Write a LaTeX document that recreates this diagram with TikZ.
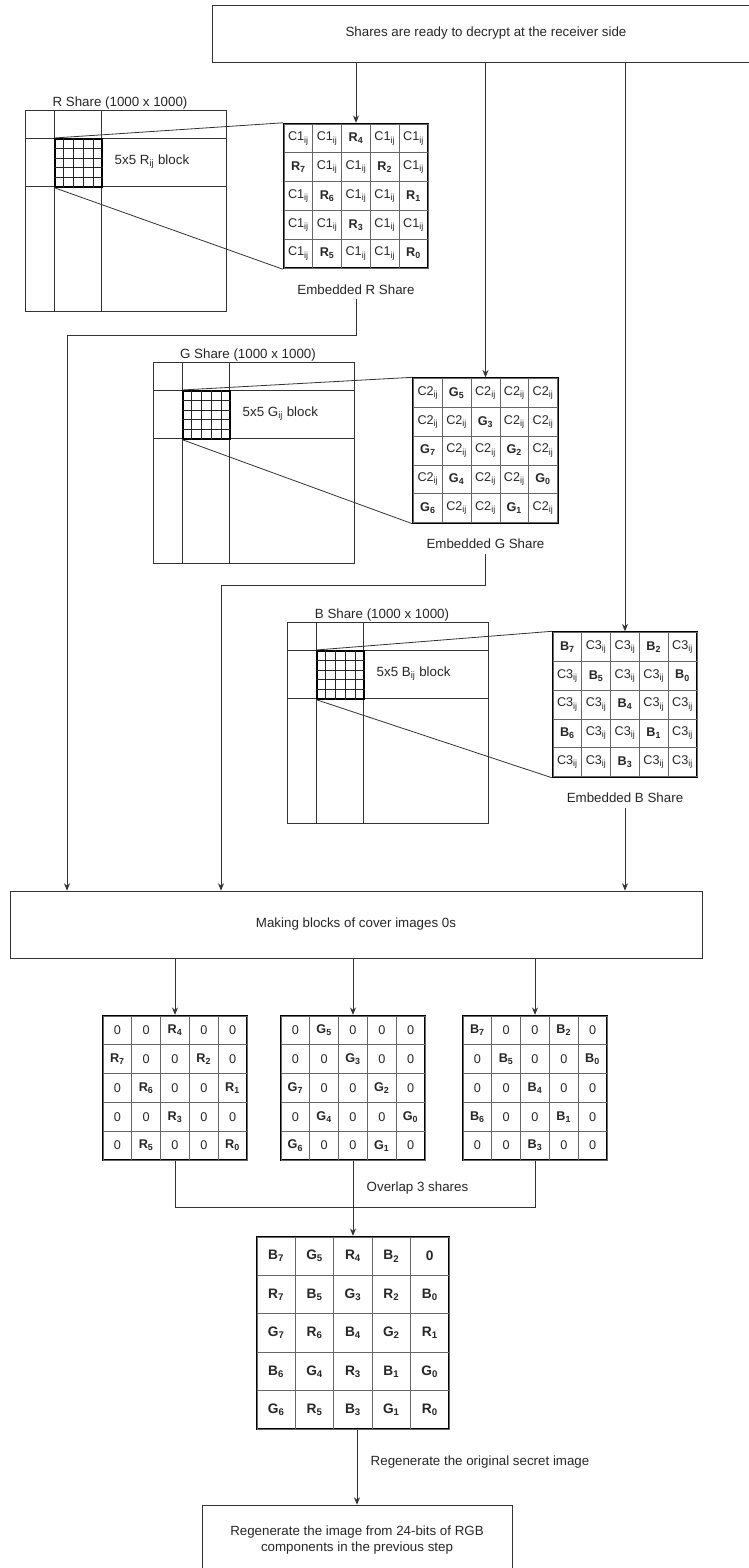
\documentclass[tikz,border=0pt]{standalone}
\usepackage{fontspec}
\setmainfont{Liberation Sans}
\usetikzlibrary{arrows.meta,positioning,calc,matrix}
\newcommand{\Cone}{C1\textsubscript{ij}}
\newcommand{\Ctwo}{C2\textsubscript{ij}}
\newcommand{\Cthree}{C3\textsubscript{ij}}
\newcommand{\pix}[2]{\textbf{#1\textsubscript{#2}}}

\begin{document}
\begin{tikzpicture}[
    x=0.75pt, y=-0.75pt,
    >={Stealth[length=5.5pt,width=4.5pt]},
    every node/.style={font=\fontsize{10}{12}\selectfont, text=black!85},
    box/.style={draw=black!80, line width=0.6pt, align=center, inner sep=0pt},
    cell/.style={draw=black!60, line width=0.5pt, minimum width=21.6pt, minimum height=21.6pt,
        inner sep=0pt, anchor=center, font=\fontsize{9.5}{11}\selectfont},
    bigcell/.style={minimum width=28.8pt, minimum height=28.8pt, font=\fontsize{10.3}{12}\selectfont},
    blockgrid/.style={matrix of nodes, draw=black, line width=1.3pt, inner sep=0pt,
        row sep=-0.5pt, column sep=-0.5pt, nodes={cell}},
    conn/.style={draw=black!80, line width=0.6pt}
]
\useasboundingbox (0,0) rectangle (749,1568);

% boxes
\node[box, minimum width=411pt, minimum height=42.75pt] (ready) at (486,33.5) {Shares are ready to decrypt at the receiver side};
\node[box, minimum width=519pt, minimum height=50.25pt] (making) at (356,924.5) {Making blocks of cover images 0s};
\node[box, minimum width=232.5pt, minimum height=52.5pt] (regen) at (357,1540) {Regenerate the image from 24-bits of RGB\\components in the previous step};

% the three 1000 x 1000 shares with their 5x5 block
\foreach \sh/\xl/\yt in {R/25/110, G/153/362, B/287/622} {
  \draw[conn] (\xl,\yt) rectangle ++(201,201);
  \draw[conn] (\xl+29,\yt) -- ++(0,201) (\xl+76,\yt) -- ++(0,201);
  \draw[conn] (\xl,\yt+28) -- ++(201,0) (\xl,\yt+76) -- ++(201,0);
  \node[anchor=base] at (\xl+95,\yt-4) {\sh{} Share (1000 x 1000)};
  \node[draw=black, line width=1.2pt, minimum width=35.25pt, minimum height=36pt, inner sep=0pt,
        anchor=north west] (blk\sh) at (\xl+29,\yt+28) {};
  \foreach \k in {1,...,4} {
    \draw[black!85, line width=0.45pt] ($(blk\sh.north west)!\k/5!(blk\sh.north east)$) -- ($(blk\sh.south west)!\k/5!(blk\sh.south east)$);
    \draw[black!85, line width=0.45pt] ($(blk\sh.north west)!\k/5!(blk\sh.south west)$) -- ($(blk\sh.north east)!\k/5!(blk\sh.south east)$);
  }
  \node[anchor=west] at (\xl+85,\yt+52) {5x5 \sh\textsubscript{ij} block};
}

% embedded shares
\matrix (embR) at (356,196) [blockgrid] {
  \Cone & \Cone & \pix{R}{4} & \Cone & \Cone \\
  \pix{R}{7} & \Cone & \Cone & \pix{R}{2} & \Cone \\
  \Cone & \pix{R}{6} & \Cone & \Cone & \pix{R}{1} \\
  \Cone & \Cone & \pix{R}{3} & \Cone & \Cone \\
  \Cone & \pix{R}{5} & \Cone & \Cone & \pix{R}{0} \\
};
\matrix (embG) at (485.5,450.5) [blockgrid] {
  \Ctwo & \pix{G}{5} & \Ctwo & \Ctwo & \Ctwo \\
  \Ctwo & \Ctwo & \pix{G}{3} & \Ctwo & \Ctwo \\
  \pix{G}{7} & \Ctwo & \Ctwo & \pix{G}{2} & \Ctwo \\
  \Ctwo & \pix{G}{4} & \Ctwo & \Ctwo & \pix{G}{0} \\
  \pix{G}{6} & \Ctwo & \Ctwo & \pix{G}{1} & \Ctwo \\
};
\matrix (embB) at (625,704.5) [blockgrid] {
  \pix{B}{7} & \Cthree & \Cthree & \pix{B}{2} & \Cthree \\
  \Cthree & \pix{B}{5} & \Cthree & \Cthree & \pix{B}{0} \\
  \Cthree & \Cthree & \pix{B}{4} & \Cthree & \Cthree \\
  \pix{B}{6} & \Cthree & \Cthree & \pix{B}{1} & \Cthree \\
  \Cthree & \Cthree & \pix{B}{3} & \Cthree & \Cthree \\
};
\node[below=8pt of embR] (labR) {Embedded R Share};
\node[below=8pt of embG] (labG) {Embedded G Share};
\node[below=8pt of embB] (labB) {Embedded B Share};

% zoom lines
\foreach \sh in {R,G,B} {
  \draw[conn] (blk\sh.north west) -- (emb\sh.north west);
  \draw[conn] (blk\sh.south west) -- (emb\sh.south west);
}

% blocks with 0s
\matrix (botR) at (175,1088) [blockgrid] {
  0 & 0 & \pix{R}{4} & 0 & 0 \\
  \pix{R}{7} & 0 & 0 & \pix{R}{2} & 0 \\
  0 & \pix{R}{6} & 0 & 0 & \pix{R}{1} \\
  0 & 0 & \pix{R}{3} & 0 & 0 \\
  0 & \pix{R}{5} & 0 & 0 & \pix{R}{0} \\
};
\matrix (botG) at (353,1088) [blockgrid] {
  0 & \pix{G}{5} & 0 & 0 & 0 \\
  0 & 0 & \pix{G}{3} & 0 & 0 \\
  \pix{G}{7} & 0 & 0 & \pix{G}{2} & 0 \\
  0 & \pix{G}{4} & 0 & 0 & \pix{G}{0} \\
  \pix{G}{6} & 0 & 0 & \pix{G}{1} & 0 \\
};
\matrix (botB) at (535,1088) [blockgrid] {
  \pix{B}{7} & 0 & 0 & \pix{B}{2} & 0 \\
  0 & \pix{B}{5} & 0 & 0 & \pix{B}{0} \\
  0 & 0 & \pix{B}{4} & 0 & 0 \\
  \pix{B}{6} & 0 & 0 & \pix{B}{1} & 0 \\
  0 & 0 & \pix{B}{3} & 0 & 0 \\
};

% overlapped block
\matrix (fin) at (353,1333) [blockgrid, nodes={bigcell}] {
  \pix{B}{7} & \pix{G}{5} & \pix{R}{4} & \pix{B}{2} & \textbf{0} \\
  \pix{R}{7} & \pix{B}{5} & \pix{G}{3} & \pix{R}{2} & \pix{B}{0} \\
  \pix{G}{7} & \pix{R}{6} & \pix{B}{4} & \pix{G}{2} & \pix{R}{1} \\
  \pix{B}{6} & \pix{G}{4} & \pix{R}{3} & \pix{B}{1} & \pix{G}{0} \\
  \pix{G}{6} & \pix{R}{5} & \pix{B}{3} & \pix{G}{1} & \pix{R}{0} \\
};

% connectors
\coordinate (turnR) at (67,335);
\coordinate (turnG) at (221,585);
\coordinate (merge) at (353,1207);
\draw[conn, ->] (ready.south -| embR.north) -- (embR.north);
\draw[conn, ->] (ready.south -| embG.north) -- (embG.north);
\draw[conn, ->] (ready.south -| embB.north) -- (embB.north);
\draw[conn, ->] (labR.south) |- (turnR) -- (turnR |- making.north);
\draw[conn, ->] (labG.south) |- (turnG) -- (turnG |- making.north);
\draw[conn, ->] (labB.south) -- (labB.south |- making.north);
\draw[conn, ->] (making.south -| botR.north) -- (botR.north);
\draw[conn, ->] (making.south -| botG.north) -- (botG.north);
\draw[conn, ->] (making.south -| botB.north) -- (botB.north);
\draw[conn] (botR.south) |- (merge) -| (botB.south);
\draw[conn, ->] (botG.south) -- (fin.north);
\draw[conn, ->] (fin.south -| regen.north) -- (regen.north);
\node[anchor=west] (ovl) at (362,1188) {Overlap 3 shares};
\node[anchor=west] (orig) at (366,1462) {Regenerate the original secret image};
\end{tikzpicture}
\end{document}
